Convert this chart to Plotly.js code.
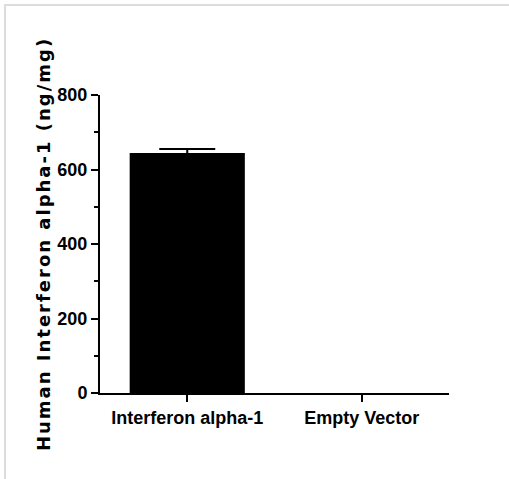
<!DOCTYPE html>
<html>
<head>
<meta charset="utf-8">
<script src="https://cdn.plot.ly/plotly-3.0.1.min.js"></script>
<style>
  html, body { margin: 0; padding: 0; background: #fff; }
  #plot { position: absolute; left: 0; top: 0; width: 509px; height: 479px; }
  #frame { position: absolute; left: 4px; top: 4px; width: 505px; height: 475px;
           border-top: 2px solid #dcdcdc; border-left: 2px solid #dcdcdc; box-sizing: border-box; pointer-events: none; }
  .ytitle { letter-spacing: 2px; }
</style>
</head>
<body>
<div id="plot"></div>
<div id="frame"></div>
<script>
const categories = ["Interferon alpha-1", "Empty Vector"];
const values = [644, 0];
const errors = [11, NaN];
const yTickVals = [0, 200, 400, 600, 800];
const yTickText = ["0", "200", "400", "600", "800"];

const trace = {
  type: "bar",
  x: categories,
  y: values,
  width: 0.66,
  marker: { color: "#000000", line: { width: 0 } },
  error_y: { type: "data", array: errors, visible: true, color: "#000000", thickness: 2, width: 28 },
  hoverinfo: "skip"
};

const tickFont = { family: "Liberation Sans, Arial, sans-serif", size: 18, color: "#000", weight: 700 };

const layout = {
  width: 509,
  height: 479,
  margin: { l: 100, r: 60, t: 95, b: 86 },
  paper_bgcolor: "#ffffff",
  plot_bgcolor: "#ffffff",
  showlegend: false,
  xaxis: {
    type: "category",
    range: [-0.5, 1.5],
    showline: true, linecolor: "#000", linewidth: 2,
    ticks: "outside", ticklen: 7, tickwidth: 2, tickcolor: "#000",
    showgrid: false, zeroline: false,
    tickfont: tickFont,
    fixedrange: true
  },
  yaxis: {
    range: [0, 800],
    tickvals: yTickVals,
    ticktext: yTickText,
    showline: true, linecolor: "#000", linewidth: 2,
    ticks: "outside", ticklen: 7, tickwidth: 2, tickcolor: "#000",
    minor: { dtick: 100, ticks: "outside", ticklen: 4, tickwidth: 2, tickcolor: "#000", showgrid: false },
    showgrid: false, zeroline: false,
    tickfont: tickFont,
    title: {
      text: "Human Interferon alpha-1 (ng/mg)",
      font: { family: "DejaVu Sans, Verdana, sans-serif", size: 18, color: "#000", weight: 700 },
      standoff: 2
    },
    automargin: false,
    fixedrange: true
  }
};

Plotly.newPlot("plot", [trace], layout, { displayModeBar: false, staticPlot: true });
</script>
</body>
</html>
